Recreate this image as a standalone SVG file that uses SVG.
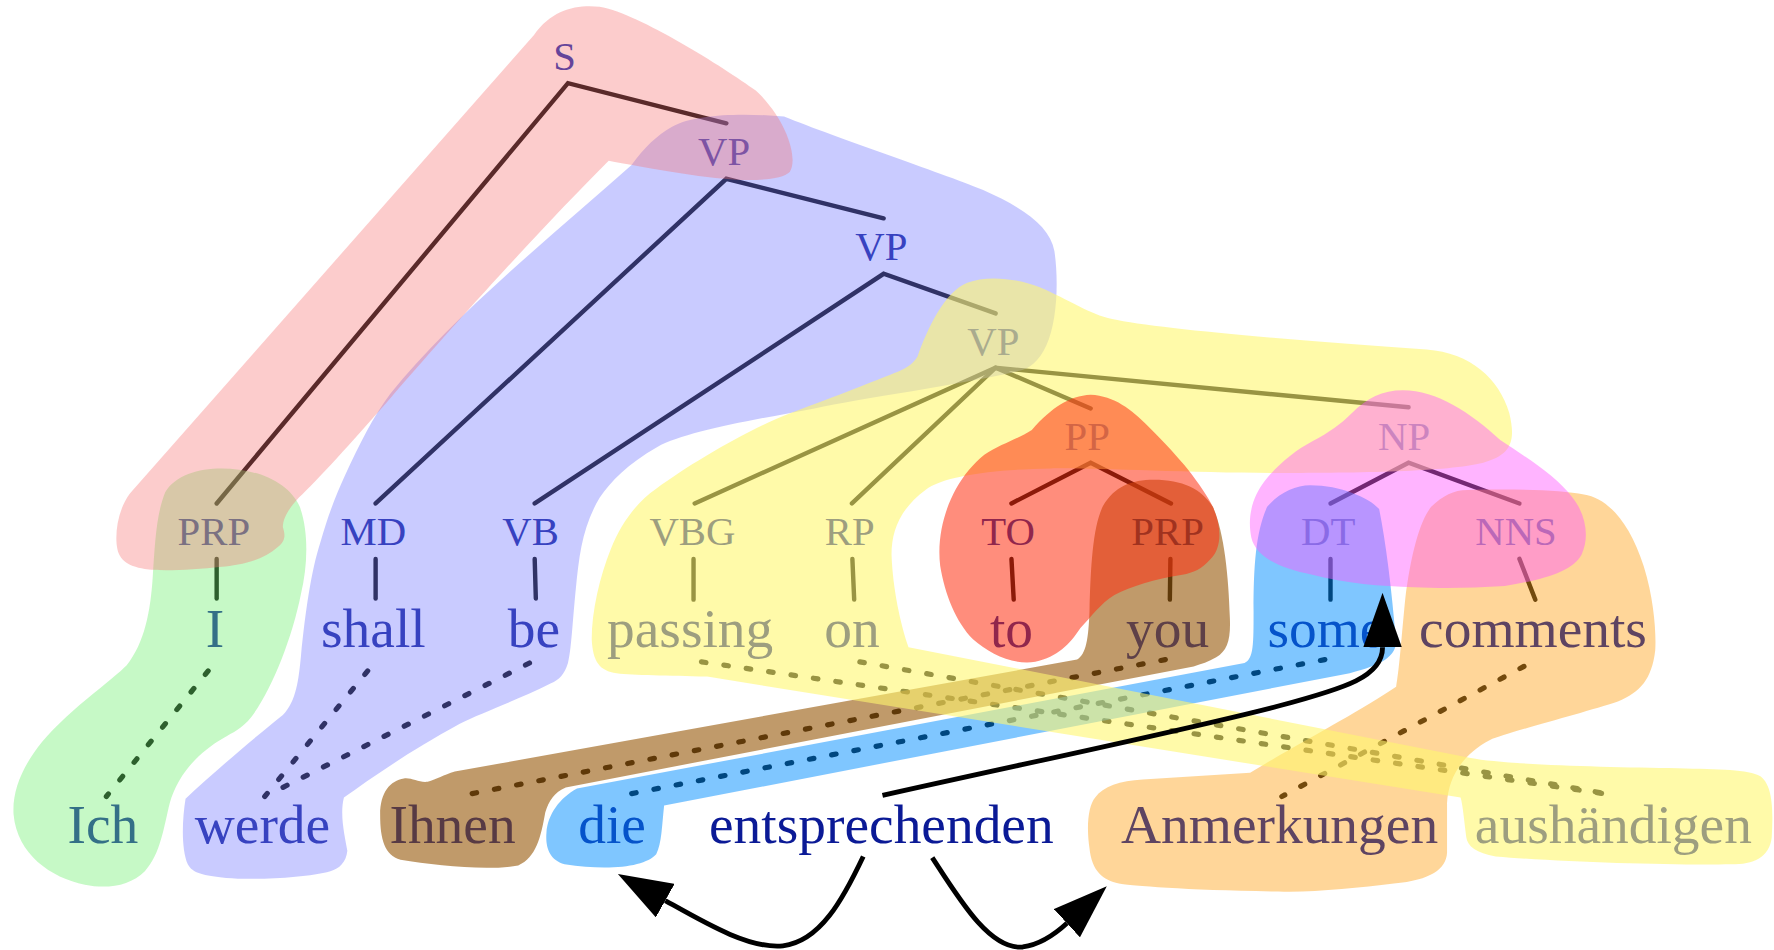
<svg xmlns="http://www.w3.org/2000/svg" width="1774" height="950" viewBox="0 0 1774 950">
<defs>
<style>
.t{font-family:"Liberation Serif","DejaVu Serif",serif;text-anchor:middle}
.tag{font-size:36px}
.word{font-size:49px}
.edge{fill:none;stroke:#000;stroke-width:3.9;stroke-linecap:round;stroke-linejoin:miter}
.align{fill:none;stroke:#000;stroke-width:4.6;stroke-linecap:round;stroke-dasharray:4 16}
.arrow{fill:none;stroke:#000;stroke-width:4.3;marker-end:url(#ah)}
.blob{stroke:none}
</style>
<marker id="ah" markerUnits="userSpaceOnUse" markerWidth="48" markerHeight="34" viewBox="0 0 48 34" refX="0" refY="17" orient="auto">
<path d="M0,0 L48,17 L0,34 Z" fill="#000"/>
</marker>
</defs>
<rect width="1774" height="950" fill="#fff"/>
<g transform="scale(1.13138)">
<g id="edges">
<polyline class="edge" points="642,109 502,73.5 191.5,445"/>
<polyline class="edge" points="781,193 642,158 332,445"/>
<polyline class="edge" points="880,277 781,242 472.6,445"/>
<polyline class="edge" points="964,361 880,325 614,445"/>
<polyline class="edge" points="1245,360 880,325 753,445"/>
<polyline class="edge" points="894,445 964,409 1035,445"/>
<polyline class="edge" points="1176,445 1245,409 1343,445"/>
<line class="edge" x1="191.5" y1="494" x2="191.5" y2="529"/>
<line class="edge" x1="332" y1="494" x2="332" y2="529"/>
<line class="edge" x1="472.6" y1="494" x2="473.6" y2="529"/>
<line class="edge" x1="613" y1="494" x2="613" y2="530"/>
<line class="edge" x1="753.4" y1="494" x2="755" y2="530"/>
<line class="edge" x1="894" y1="494" x2="896" y2="530"/>
<line class="edge" x1="1034.5" y1="494" x2="1034" y2="530"/>
<line class="edge" x1="1176" y1="494" x2="1176" y2="530"/>
<line class="edge" x1="1343" y1="494" x2="1357" y2="530"/>
<line class="align" x1="184" y1="593" x2="94" y2="704"/>
<line class="align" x1="325" y1="593" x2="234" y2="704"/>
<line class="align" x1="468" y1="586" x2="246" y2="698"/>
<line class="align" x1="1030" y1="583" x2="404" y2="704"/>
<line class="align" x1="1171" y1="583" x2="545" y2="704"/>
<line class="align" x1="1347" y1="589" x2="1133" y2="704"/>
<line class="align" x1="620" y1="585" x2="1428" y2="703"/>
<line class="align" x1="760" y1="585" x2="1428" y2="703"/>
</g>
<g id="highlights">
<path id="hl-vp" class="blob" fill="#777dff" fill-opacity="0.4" d="M594,112 C615,100 660,100 693,103 C740,122 830,152 869,168 C905,184 928,200 932,222 C936,250 934,285 925,305 C918,320 910,326 900,328 C850,340 760,352 720,361 C660,372 605,382 581,395 C555,410 540,425 530,440 C515,465 512,490 509,520 C506,550 505,575 502,586 C499,596 494,601 487,604 C455,620 425,630 406,640 C360,665 325,690 304,705 C300,720 305,740 307,752 C306,762 300,768 292,770 C270,776 225,778 200,776 C180,774 170,772 166,764 C160,750 161,725 164,706 C195,677 230,648 250,632 C262,620 264,600 266,580 C270,540 275,505 283,480 C290,455 298,435 305,420 C318,392 330,368 345,348 C400,280 480,215 558,146 C570,130 580,120 594,112 Z"/>
<path id="hl-i" class="blob" fill="#70f070" fill-opacity="0.4" d="M196,414 C225,414 255,425 265,448 C273,470 272,500 266,525 C258,565 240,610 222,634 C214,644 205,648 198,652 C175,665 157,685 150,710 C145,730 142,755 128,770 C115,783 95,786 75,782 C45,776 15,755 12,720 C10,690 30,660 55,637 C75,618 100,600 112,588 C128,568 133,540 135,510 C137,480 138,455 146,435 C155,420 175,414 196,414 Z"/>
<path id="hl-s" class="blob" fill="#f67373" fill-opacity="0.365" d="M472,31 C488,8 510,4 530,6 C565,12 640,60 668,80 C695,105 706,140 698,152 C690,160 660,160 640,158 C600,154 560,146 538,142 C470,210 390,300 345,352 C310,392 280,425 264,440 C255,450 250,458 250,466 C252,472 253,478 245,484 C232,496 210,500 196,501 C170,504 140,505 128,503 C112,500 104,495 103,480 C102,465 106,448 115,436 Z"/>
<path id="hl-you" class="blob" fill="#995c0e" fill-opacity="0.62" d="M1020,424 C1045,424 1062,432 1072,448 C1082,470 1086,510 1087,545 C1088,565 1085,575 1075,581 C1068,585 1062,587 1055,589 L500,696 C490,700 485,708 482,718 C478,740 474,758 458,765 C430,770 385,765 354,760 C340,756 336,742 336,720 C336,700 345,690 357,688 C364,687 370,692 378,691 C386,689 392,685 402,682 L952,583 C960,578 962,565 963,540 C964,500 966,465 975,447 C985,430 1000,424 1020,424 Z"/>
<path id="hl-some" class="blob" fill="#008dff" fill-opacity="0.5" d="M1158,429 C1185,429 1210,440 1219,450 C1225,480 1230,520 1234,568 C1233,580 1222,588 1193,595 L587,712 C585,730 585,745 580,755 C570,766 540,770 499,764 C485,760 482,748 483,736 C484,720 495,705 510,697 L1100,586 C1108,582 1108,570 1108,540 C1108,500 1110,470 1120,448 C1130,436 1145,429 1158,429 Z"/>
<path id="hl-comments" class="blob" fill="#ffa41d" fill-opacity="0.45" d="M1297,433 C1340,432 1380,433 1400,437 C1420,440 1440,460 1453,501 C1462,530 1464,560 1463,575 C1460,600 1450,612 1430,620 C1400,630 1330,648 1317,654 C1290,668 1280,690 1279,710 L1279,754 C1278,768 1265,778 1232,781 C1200,785 1160,789 1130,788 C1050,787 1000,783 989,781 C975,778 965,770 963,750 C960,730 962,712 968,705 C975,695 990,690 1010,689 L1105,683 C1160,650 1200,630 1234,607 C1237,590 1239,560 1242,530 C1247,490 1255,460 1265,448 C1275,438 1285,433 1297,433 Z"/>
<path id="hl-passing" class="blob" fill="#fff76f" fill-opacity="0.6" d="M811,315 C820,290 835,258 855,250 C872,243 900,246 919,254 C945,265 963,278 983,282 C1020,290 1130,300 1261,309 C1300,312 1325,335 1334,365 C1340,390 1336,402 1311,409 C1280,417 1200,418 1130,418 C1050,418 960,413 929,414 C880,415 835,420 818,433 C795,450 788,470 788,490 C789,520 796,552 803,572 L1300,670 C1330,676 1420,678 1483,679 C1520,680 1545,680 1556,686 C1568,695 1567,720 1566,740 C1564,758 1550,764 1530,764 C1480,765 1380,762 1322,757 C1305,754 1297,748 1296,740 C1294,725 1293,712 1291,705 L625,598 C590,597 560,597 545,595 C530,593 524,585 523,565 C523,540 530,510 540,485 C550,460 565,442 580,432 C610,410 660,380 699,365 C740,350 775,336 790,330 C800,326 807,322 811,315 Z"/>
<path id="hl-pp" class="blob" fill="#ff3010" fill-opacity="0.55" d="M964,349 C985,350 1000,362 1015,377 C1030,392 1042,405 1050,415 C1060,428 1067,438 1072,448 C1080,465 1080,485 1070,494 C1062,503 1055,506 1045,508 C1020,512 1000,518 985,526 C972,534 965,545 955,555 C945,570 935,580 915,585 C895,588 875,578 860,565 C845,550 835,525 831,500 C828,475 835,450 845,432 C852,420 860,410 870,402 C885,392 900,388 912,380 C930,360 945,350 964,349 Z"/>
<path id="hl-np" class="blob" fill="#ff59ff" fill-opacity="0.45" d="M1240,345 C1270,345 1300,365 1326,389 C1350,405 1375,420 1390,440 C1402,455 1405,475 1398,490 C1390,505 1365,512 1330,518 C1300,520 1270,520 1250,519 C1220,518 1190,516 1160,508 C1130,502 1110,492 1106,475 C1102,455 1108,438 1118,425 C1130,410 1145,398 1160,390 C1175,382 1185,375 1195,365 C1208,352 1222,345 1240,345 Z"/>
</g>
<g id="nodes">
<g id="n-S"><text class="t tag" x="499" y="62" fill="#65449a">S</text></g>
<g id="n-VP1"><text class="t tag" x="640" y="146" fill="#7d54a4">VP</text></g>
<g id="n-VP2"><text class="t tag" x="779" y="230" fill="#3742c0">VP</text></g>
<g id="n-VP3"><text class="t tag" x="878" y="314" fill="#aaab8e">VP</text></g>
<g id="n-PP"><text class="t tag" x="961" y="398" fill="#d36545">PP</text></g>
<g id="n-NP"><text class="t tag" x="1241" y="398" fill="#cc84bf">NP</text></g>
<g id="n-PRP1"><text class="t tag" x="189" y="482" fill="#7b7182">PRP</text></g>
<g id="n-MD"><text class="t tag" x="330" y="482" fill="#3742c0">MD</text></g>
<g id="n-VB"><text class="t tag" x="469" y="482" fill="#3742c0">VB</text></g>
<g id="n-VBG"><text class="t tag" x="612" y="482" fill="#9d9e7f">VBG</text></g>
<g id="n-RP"><text class="t tag" x="751" y="482" fill="#9d9e7f">RP</text></g>
<g id="n-TO"><text class="t tag" x="891" y="482" fill="#91264c">TO</text></g>
<g id="n-PRP2"><text class="t tag" x="1032" y="482" fill="#a0321f">PRP</text></g>
<g id="n-DT"><text class="t tag" x="1174" y="482" fill="#8a6ae6">DT</text></g>
<g id="n-NNS"><text class="t tag" x="1340" y="482" fill="#bb68b8">NNS</text></g>
<g id="w-I"><text class="t word" x="190" y="572" fill="#347087">I</text></g>
<g id="w-shall"><text class="t word" x="330" y="572" fill="#3742c0">shall</text></g>
<g id="w-be"><text class="t word" x="472" y="572" fill="#3742c0">be</text></g>
<g id="w-passing"><text class="t word" x="610" y="572" fill="#9d9e7f">passing</text></g>
<g id="w-on"><text class="t word" x="753" y="572" fill="#9d9e7f">on</text></g>
<g id="w-to"><text class="t word" x="894" y="572" fill="#91264c">to</text></g>
<g id="w-you"><text class="t word" x="1032" y="572" fill="#5e4048">you</text></g>
<g id="w-some"><text class="t word" x="1172" y="572" fill="#0553ca">some</text></g>
<g id="w-comments"><text class="t word" x="1355" y="572" fill="#5e4462">comments</text></g>
<g id="g-Ich"><text class="t word" x="91" y="745" fill="#347087">Ich</text></g>
<g id="g-werde"><text class="t word" x="232" y="745" fill="#3742c0">werde</text></g>
<g id="g-Ihnen"><text class="t word" x="400" y="745" fill="#573a44">Ihnen</text></g>
<g id="g-die"><text class="t word" x="541" y="745" fill="#0553ca">die</text></g>
<g id="g-entsprechenden"><text class="t word" x="779" y="745" fill="#0b1a96">entsprechenden</text></g>
<g id="g-Anmerkungen"><text class="t word" x="1131" y="745" fill="#5e4462">Anmerkungen</text></g>
<g id="g-aushaendigen"><text class="t word" x="1426" y="745" fill="#9d9e7f">aushändigen</text></g>
</g>
<g id="arrows">
<path class="arrow" d="M780,703 C900,676 1050,645 1130,624 C1190,608 1222,598 1222,572"/>
<path class="arrow" d="M763,757 C745,795 725,832 692,836 C662,839 622,815 588,796"/>
<path class="arrow" d="M824,758 C848,795 875,840 904,837 C918,835 930,828 943,816"/>
</g>
</g>
</svg>
